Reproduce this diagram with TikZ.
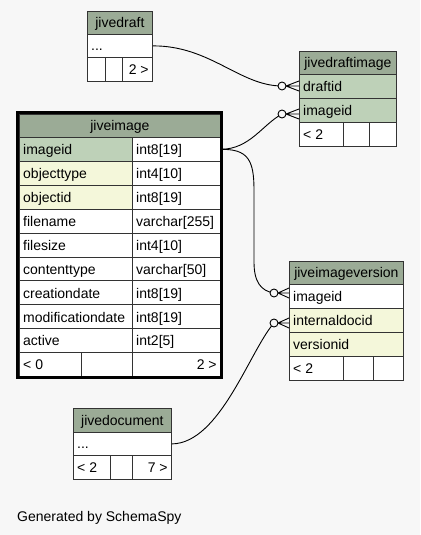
\documentclass[tikz,border=0pt]{standalone}
\usepackage{fontspec}
\setmainfont{Liberation Sans}
\usetikzlibrary{calc}
\definecolor{bg}{HTML}{F7F7F7}
\definecolor{hdr}{HTML}{9BAB96}
\definecolor{pk}{HTML}{BED1B8}
\definecolor{idx}{HTML}{F4F7DA}
\tikzset{
 cellbox/.style={draw=black!80, line width=0.8pt, rectangle, inner sep=0pt, anchor=north west},
 celltext/.style={inner sep=0pt, font=\fontsize{14}{16}\selectfont},
 conn/.style={line width=0.9pt, draw=black},
 ring/.style={draw=black, line width=0.9pt, fill=bg},
 focusframe/.style={draw=black, line width=3pt},
}
% name, x, y(top), width, height, fill, text
\newcommand\cellL[7]{\node[cellbox,fill=#6,minimum width=#4pt,minimum height=#5pt] (#1) at (#2,#3) {};
 \node[celltext,anchor=base west] (#1-t) at ([shift={(4,-7)}]#1.south west) {#7};}
\newcommand\cellC[7]{\node[cellbox,fill=#6,minimum width=#4pt,minimum height=#5pt] (#1) at (#2,#3) {};
 \node[celltext,anchor=base] (#1-t) at ([shift={(0,-7)}]#1.south) {#7};}
\newcommand\cellR[7]{\node[cellbox,fill=#6,minimum width=#4pt,minimum height=#5pt] (#1) at (#2,#3) {};
 \node[celltext,anchor=base east] (#1-t) at ([shift={(-4,-7)}]#1.south east) {#7};}
\newcommand\cellE[6]{\node[cellbox,fill=#6,minimum width=#4pt,minimum height=#5pt] (#1) at (#2,#3) {};}
% crow's foot with ring: ring coordinate, target cell
\newcommand\crowfoot[2]{%
 \draw[conn] ($(#1)+(4,0)$) -- (#2.west |- #1)
   ($(#1)+(4,0)$) -- ($(#2.west |- #1)+(0,5)$)
   ($(#1)+(4,0)$) -- ($(#2.west |- #1)+(0,-5)$);
 \draw[ring] (#1) circle[radius=4];}
\begin{document}
\begin{tikzpicture}[x=1pt,y=-1pt]
\fill[bg] (0,0) rectangle (420,535);
\useasboundingbox (0,0) rectangle (420,535);

% jivedraft
\cellC{jd-h}{87}{11}{65}{23}{hdr}{jivedraft}
\cellL{jd-r}{87}{34}{65}{23}{white}{...}
\cellE{jd-f1}{87}{57}{18}{24}{white}
\cellE{jd-f2}{105}{57}{17}{24}{white}
\cellR{jd-f3}{122}{57}{30}{24}{white}{2 >}

% jivedraftimage
\cellC{jdi-h}{299}{51}{97}{23}{hdr}{jivedraftimage}
\cellL{jdi-draftid}{299}{74}{97}{24}{pk}{draftid}
\cellL{jdi-imageid}{299}{98}{97}{24}{pk}{imageid}
\cellL{jdi-f1}{299}{122}{44}{24}{white}{< 2}
\cellE{jdi-f2}{343}{122}{26}{24}{white}
\cellE{jdi-f3}{369}{122}{27}{24}{white}

% jiveimage
\cellC{ji-h}{19}{114}{201}{23}{hdr}{jiveimage}
\cellL{ji-imageid}{19}{137}{113}{23.9}{pk}{imageid}
\cellL{ji-imageid-ty}{132}{137}{88}{23.9}{white}{int8[19]}
\cellL{ji-objecttype}{19}{160.9}{113}{23.9}{idx}{objecttype}
\cellL{ji-objecttype-ty}{132}{160.9}{88}{23.9}{white}{int4[10]}
\cellL{ji-objectid}{19}{184.8}{113}{23.9}{idx}{objectid}
\cellL{ji-objectid-ty}{132}{184.8}{88}{23.9}{white}{int8[19]}
\cellL{ji-filename}{19}{208.7}{113}{23.9}{white}{filename}
\cellL{ji-filename-ty}{132}{208.7}{88}{23.9}{white}{varchar[255]}
\cellL{ji-filesize}{19}{232.6}{113}{23.9}{white}{filesize}
\cellL{ji-filesize-ty}{132}{232.6}{88}{23.9}{white}{int4[10]}
\cellL{ji-contenttype}{19}{256.5}{113}{23.9}{white}{contenttype}
\cellL{ji-contenttype-ty}{132}{256.5}{88}{23.9}{white}{varchar[50]}
\cellL{ji-creationdate}{19}{280.4}{113}{23.9}{white}{creationdate}
\cellL{ji-creationdate-ty}{132}{280.4}{88}{23.9}{white}{int8[19]}
\cellL{ji-moddate}{19}{304.3}{113}{23.9}{white}{modificationdate}
\cellL{ji-moddate-ty}{132}{304.3}{88}{23.9}{white}{int8[19]}
\cellL{ji-active}{19}{328.2}{113}{23.9}{white}{active}
\cellL{ji-active-ty}{132}{328.2}{88}{23.9}{white}{int2[5]}
\cellL{ji-f1}{19}{352.1}{62}{23.9}{white}{< 0}
\cellE{ji-f2}{81}{352.1}{51}{23.9}{white}
\cellR{ji-f3}{132}{352.1}{88}{23.9}{white}{2 >}

% jiveimageversion
\cellC{jiv-h}{289}{261}{114}{23}{hdr}{jiveimageversion}
\cellL{jiv-imageid}{289}{284}{114}{24}{white}{imageid}
\cellL{jiv-internaldocid}{289}{308}{114}{24}{idx}{internaldocid}
\cellL{jiv-versionid}{289}{332}{114}{24}{idx}{versionid}
\cellL{jiv-f1}{289}{356}{54}{24}{white}{< 2}
\cellE{jiv-f2}{343}{356}{30}{24}{white}
\cellE{jiv-f3}{373}{356}{30}{24}{white}

% jivedocument
\cellC{jdoc-h}{73}{408}{98}{24}{hdr}{jivedocument}
\cellL{jdoc-r}{73}{432}{98}{23}{white}{...}
\cellL{jdoc-f1}{73}{455}{37}{24}{white}{< 2}
\cellE{jdoc-f2}{110}{455}{22}{24}{white}
\cellR{jdoc-f3}{132}{455}{39}{24}{white}{7 >}

% connectors
\coordinate (c1) at (282,86);
\coordinate (c2) at (282,114);
\coordinate (c3) at (274,293);
\coordinate (c4) at (274,323);

\draw[conn] (jd-r.east) .. controls (210,45.5) and (240,86) .. (c1);
\draw[conn] (ji-imageid-ty.east) .. controls (250,149) and (262,125) .. (c2);
\draw[conn] (ji-imageid-ty.east) .. controls (248,149) and (254,160) .. (254,190)
  -- (254,262) .. controls (254,282) and (261,291) .. (c3);
\draw[conn] (jdoc-r.east) .. controls (220,443.5) and (250,350) .. (c4);

\crowfoot{c1}{jdi-draftid}
\crowfoot{c2}{jdi-imageid}
\crowfoot{c3}{jiv-imageid}
\crowfoot{c4}{jiv-internaldocid}

% focused table frame
\draw[focusframe] (17.5,112.5) rectangle (221.5,377.5);

\node[celltext,anchor=base west] (footer) at (17,521) {Generated by SchemaSpy};
\end{tikzpicture}
\end{document}
